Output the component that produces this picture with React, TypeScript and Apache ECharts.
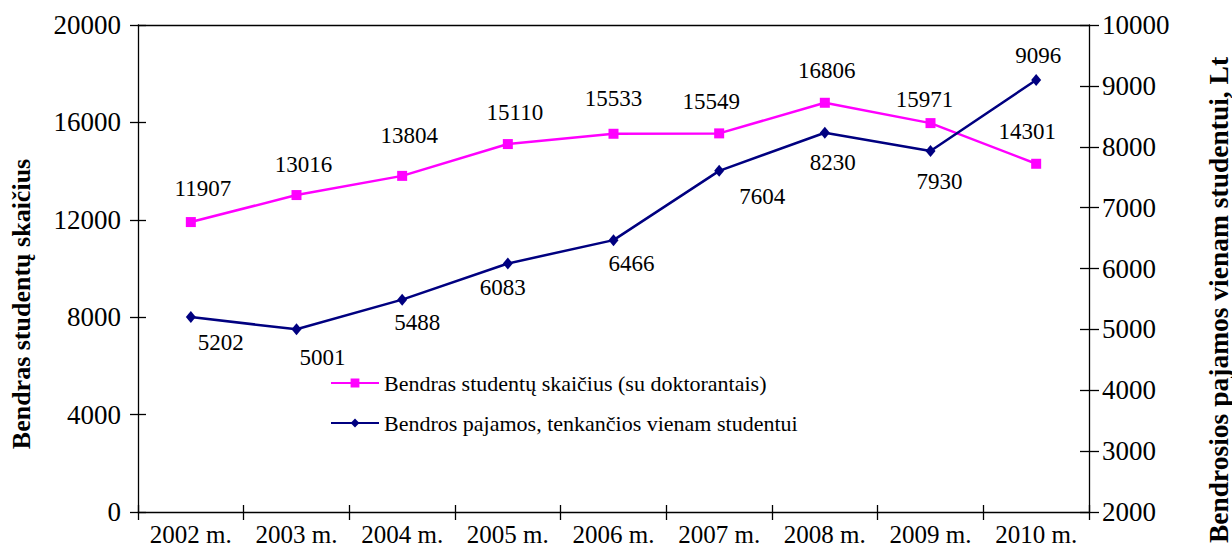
import React, { useEffect, useRef } from "react";
import * as echarts from "echarts";

const categories = ["2002 m.", "2003 m.", "2004 m.", "2005 m.", "2006 m.", "2007 m.", "2008 m.", "2009 m.", "2010 m."];
const studentsName = "Bendras studentų skaičius (su doktorantais)";
const incomeName = "Bendros pajamos, tenkančios vienam studentui";
const students = [11907, 13016, 13804, 15110, 15533, 15549, 16806, 15971, 14301];
const income = [5202, 5001, 5488, 6083, 6466, 7604, 8230, 7930, 9096];
const leftTitle = "Bendras studentų skaičius";
const rightTitle = "Bendrosios pajamos vienam studentui, Lt";

// label offsets (style only)
const studentsLabelOffsets = [[12, -34], [7, -31], [7, -40], [7, -32], [0, -35], [-8, -32], [2, -32], [-6, -24], [-9, -32]];
const incomeLabelOffsets = [[30, 25], [26, 28], [15, 23], [-5, 24], [18, 23], [43, 26], [8, 30], [9, 30], [2, -25]];

const FONT = "Liberation Serif";
const plain = (v: number) => String(v);

export default function App() {
  const ref = useRef<HTMLDivElement>(null);
  useEffect(() => {
    document.body.style.margin = "0";
    const chart = echarts.init(ref.current!, null, { renderer: "svg" });
    const grid = { left: 138, right: 143, top: 25, bottom: 44, containLabel: false };
    const yLeftBase = { type: "value", min: 0, max: 20000, interval: 4000, position: "left" };
    const yRightBase = { type: "value", min: 2000, max: 10000, interval: 1000, position: "right" };
    const lineStyleAxis = { color: "#000", width: 1.3 };
    chart.setOption({
      animation: false,
      backgroundColor: "#fff",
      textStyle: { fontFamily: FONT },
      grid,
      legend: {
        orient: "vertical",
        left: 325,
        top: 367,
        itemWidth: 48,
        itemHeight: 11,
        itemGap: 18,
        textStyle: { fontFamily: FONT, fontSize: 22, color: "#000" },
        data: [studentsName, incomeName],
      },
      xAxis: [
        {
          type: "category",
          data: categories,
          boundaryGap: true,
          position: "bottom",
          axisLine: { show: true, lineStyle: lineStyleAxis },
          axisTick: { show: true, length: 8, inside: false, interval: 0, lineStyle: lineStyleAxis },
          axisLabel: { fontFamily: FONT, fontSize: 25, color: "#000", margin: 10, interval: 0 },
          splitLine: { show: false },
        },
        {
          type: "category",
          data: categories,
          boundaryGap: true,
          position: "bottom",
          axisLine: { show: false },
          axisTick: { show: true, length: 7, inside: true, interval: 0, lineStyle: lineStyleAxis },
          axisLabel: { show: false },
          splitLine: { show: false },
        },
        {
          type: "category",
          data: categories,
          position: "top",
          axisLine: { show: true, lineStyle: lineStyleAxis },
          axisTick: { show: false },
          axisLabel: { show: false },
          splitLine: { show: false },
        },
      ],
      yAxis: [
        {
          ...yLeftBase,
          axisLine: { show: true, lineStyle: lineStyleAxis },
          axisTick: { show: true, length: 8, inside: false, lineStyle: lineStyleAxis },
          axisLabel: { fontFamily: FONT, fontSize: 27, color: "#000", margin: 17, formatter: plain },
          splitLine: { show: false },
        },
        {
          ...yRightBase,
          axisLine: { show: true, lineStyle: lineStyleAxis },
          axisTick: { show: true, length: 10, inside: false, lineStyle: lineStyleAxis },
          axisLabel: { fontFamily: FONT, fontSize: 27, color: "#000", margin: 13, formatter: plain },
          splitLine: { show: false },
        },
        {
          ...yLeftBase,
          axisLine: { show: false },
          axisTick: { show: true, length: 8, inside: true, lineStyle: lineStyleAxis },
          axisLabel: { show: false },
          splitLine: { show: false },
        },
        {
          ...yRightBase,
          axisLine: { show: false },
          axisTick: { show: true, length: 9, inside: true, lineStyle: lineStyleAxis },
          axisLabel: { show: false },
          splitLine: { show: false },
        },
      ],
      graphic: [
        {
          type: "text",
          x: 21,
          y: 304,
          rotation: Math.PI / 2,
          style: {
            text: leftTitle,
            fontFamily: FONT,
            fontSize: 26,
            fontWeight: "bold",
            fill: "#000",
            align: "center",
            verticalAlign: "middle",
          },
        },
        {
          type: "text",
          x: 1218,
          y: 300,
          rotation: Math.PI / 2,
          style: {
            text: rightTitle,
            fontFamily: FONT,
            fontSize: 27.5,
            fontWeight: "bold",
            fill: "#000",
            align: "center",
            verticalAlign: "middle",
          },
        },
      ],
      series: [
        {
          name: studentsName,
          type: "line",
          xAxisIndex: 0,
          yAxisIndex: 0,
          data: students.map((v, i) => ({
            value: v,
            label: { offset: studentsLabelOffsets[i] },
          })),
          symbol: "rect",
          symbolSize: 10,
          itemStyle: { color: "#FF00FF" },
          lineStyle: { color: "#FF00FF", width: 2.5 },
          label: {
            show: true,
            position: "inside",
            fontFamily: FONT,
            fontSize: 23,
            color: "#000",
          },
        },
        {
          name: incomeName,
          type: "line",
          xAxisIndex: 0,
          yAxisIndex: 1,
          data: income.map((v, i) => ({
            value: v,
            label: { offset: incomeLabelOffsets[i] },
          })),
          symbol: "diamond",
          symbolSize: [10, 12],
          itemStyle: { color: "#000080" },
          lineStyle: { color: "#000080", width: 2.5 },
          label: {
            show: true,
            position: "inside",
            fontFamily: FONT,
            fontSize: 23,
            color: "#000",
          },
        },
      ],
    });
    return () => chart.dispose();
  }, []);
  return <div ref={ref} style={{ width: 1232, height: 556 }} />;
}
